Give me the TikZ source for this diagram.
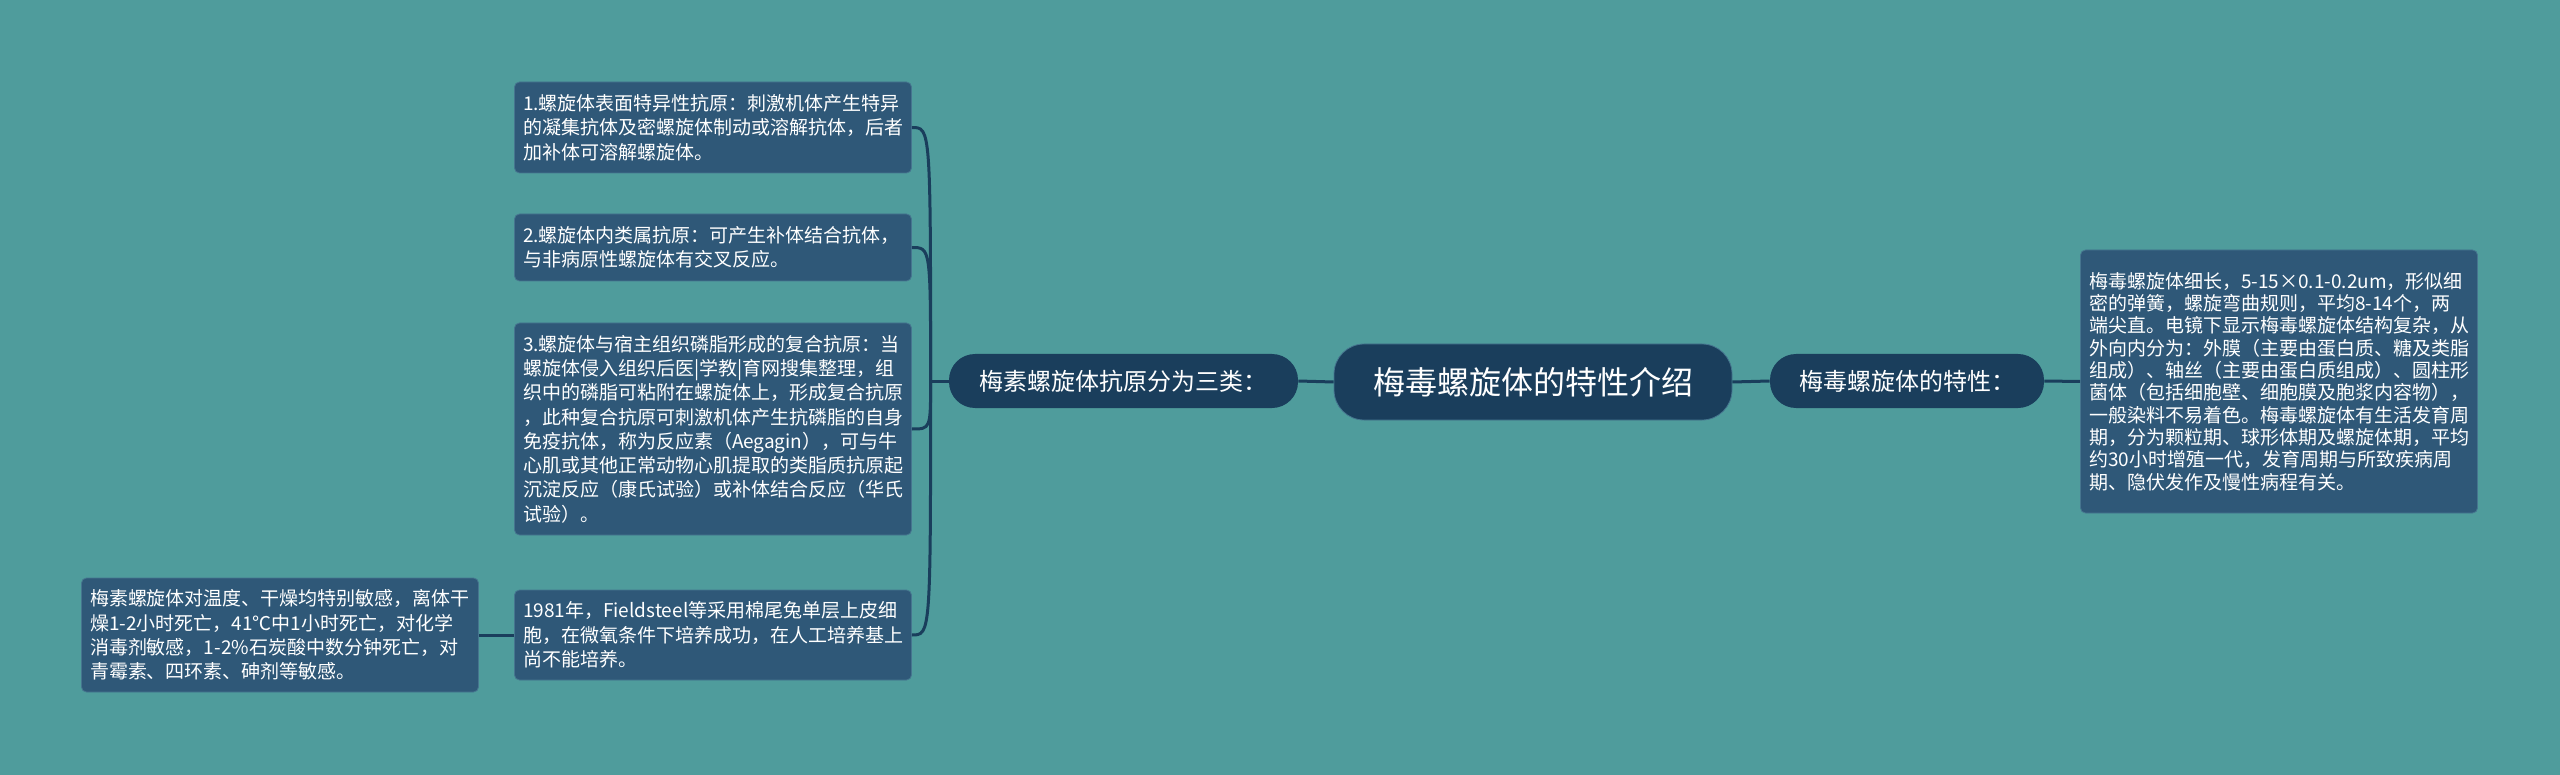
\documentclass[tikz,border=0pt]{standalone}
\usepackage{fontspec}
\setmainfont{Noto Sans CJK SC}
\usetikzlibrary{calc}
\definecolor{sea}{HTML}{4F9C9C}
\definecolor{navy}{HTML}{1A3E5C}
\definecolor{slate}{HTML}{2F5878}
\definecolor{rim}{HTML}{46758F}
\begin{document}
\begin{tikzpicture}[x=0.5pt, y=-0.5pt]% mind map
            \tikzstyle{root} = [fill=navy, draw=rim, line width=0.4pt, text=white, rounded corners=15pt, minimum width=199pt, minimum height=38pt, font=\fontsize{16}{19}\selectfont]
            \tikzstyle{branch} = [fill=navy, text=white, rounded corners=13pt, minimum height=27pt, font=\fontsize{12}{14}\selectfont]
            \tikzstyle{leaf} = [fill=slate, draw=rim, line width=0.4pt, text=white, rounded corners=2.5pt, align=left, text width=190pt, inner xsep=4.25pt, font=\fontsize{9.5}{#1}\selectfont]
            \tikzstyle{link} = [navy, line width=1.5pt]
            \fill[sea] (0, 0) rectangle (2560, 775);
            \useasboundingbox (0, 0) rectangle (2560, 775);
            \node[root] (root) at (1533, 382) {梅毒螺旋体的特性介绍};
            \node[branch, minimum width=174.5pt] (antigen) at (1123.5, 381) {梅素螺旋体抗原分为三类：};
            \node[branch, minimum width=137pt] (nature) at (1907, 381) {梅毒螺旋体的特性：};
            \node[leaf=11.15pt, minimum height=131.5pt] (detail) at (2279, 381.5) {梅毒螺旋体细长，5-15×0.1-0.2um，形似细\\密的弹簧，螺旋弯曲规则，平均8-14个，两\\端尖直。电镜下显示梅毒螺旋体结构复杂，从\\外向内分为：外膜（主要由蛋白质、糖及类脂\\组成）、轴丝（主要由蛋白质组成）、圆柱形\\菌体（包括细胞壁、细胞膜及胞浆内容物），\\一般染料不易着色。梅毒螺旋体有生活发育周\\期，分为颗粒期、球形体期及螺旋体期，平均\\约30小时增殖一代，发育周期与所致疾病周\\期、隐伏发作及慢性病程有关。};
            \node[leaf=12.15pt, minimum height=45.5pt] (leaf 1) at (713, 127.5) {1.螺旋体表面特异性抗原：刺激机体产生特异\\的凝集抗体及密螺旋体制动或溶解抗体，后者\\加补体可溶解螺旋体。};
            \node[leaf=12.15pt, minimum height=33.5pt] (leaf 2) at (713, 247.5) {2.螺旋体内类属抗原：可产生补体结合抗体，\\与非病原性螺旋体有交叉反应。};
            \node[leaf=12.15pt, minimum height=106pt] (leaf 3) at (713, 429) {3.螺旋体与宿主组织磷脂形成的复合抗原：当\\螺旋体侵入组织后医|学教|育网搜集整理，组\\织中的磷脂可粘附在螺旋体上，形成复合抗原\\，此种复合抗原可刺激机体产生抗磷脂的自身\\免疫抗体，称为反应素（Aegagin），可与牛\\心肌或其他正常动物心肌提取的类脂质抗原起\\沉淀反应（康氏试验）或补体结合反应（华氏\\试验）。};
            \node[leaf=12.15pt, minimum height=45pt] (leaf 4) at (713, 635) {1981年，Fieldsteel等采用棉尾兔单层上皮细\\胞，在微氧条件下培养成功，在人工培养基上\\尚不能培养。};
            \node[leaf=12.15pt, minimum height=57pt] (leaf 5) at (280, 635) {梅素螺旋体对温度、干燥均特别敏感，离体干\\燥1-2小时死亡，41℃中1小时死亡，对化学\\消毒剂敏感，1-2\%石炭酸中数分钟死亡，对\\青霉素、四环素、砷剂等敏感。};
            % connectors
            \draw[link] (antigen.east) -- (root.west);
            \draw[link] (root.east) -- (nature.west);
            \draw[link] (nature.east) -- (detail.west);
            \coordinate (trunk) at ($(antigen.west) - (18, 0)$);
            \draw[link] (antigen.west) -- (trunk);
            \foreach \n in {1, ..., 4}
                \draw[link] (trunk) .. controls (trunk |- leaf \n.east) .. (leaf \n.east);
            \draw[link] (leaf 4.west) -- (leaf 5.east);
        \end{tikzpicture}
\end{document}
